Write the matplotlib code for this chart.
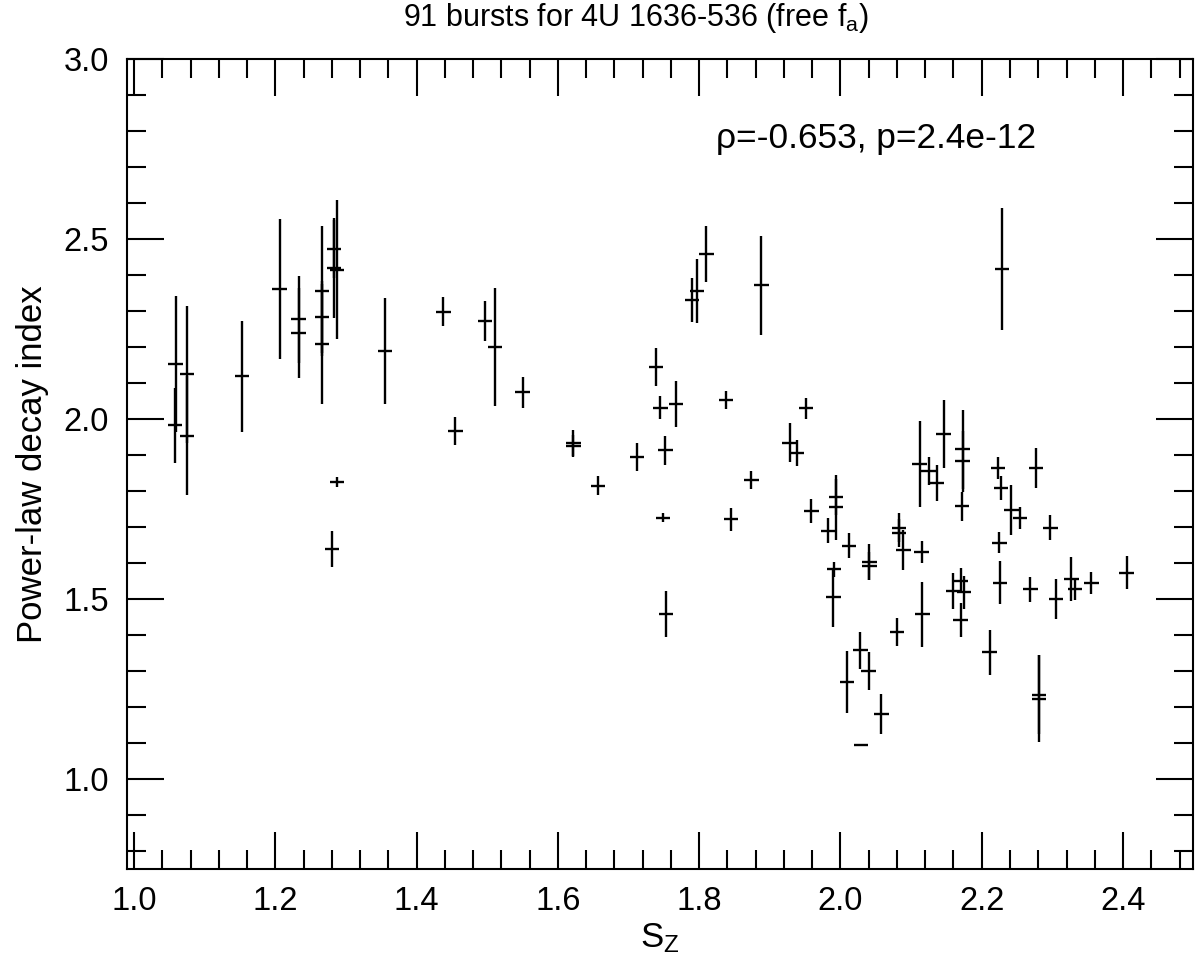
import numpy as np
import matplotlib
matplotlib.use("Agg")
import matplotlib.pyplot as plt
from matplotlib.ticker import MultipleLocator, FormatStrFormatter

plt.rcParams['font.family'] = ['Liberation Sans', 'DejaVu Sans']
plt.rcParams['mathtext.default'] = 'regular'

# S_Z values, power-law decay index and its 1-sigma error
sz = [1.058, 1.059, 1.075, 1.075, 1.153, 1.206, 1.233, 1.233, 1.266, 1.266,
      1.266, 1.280, 1.283, 1.283, 1.287, 1.287, 1.355, 1.438, 1.455, 1.497,
      1.511, 1.550, 1.622, 1.622, 1.657, 1.712, 1.739, 1.745, 1.749, 1.752,
      1.753, 1.767, 1.790, 1.797, 1.810, 1.838, 1.845, 1.874, 1.888, 1.928,
      1.938, 1.951, 1.959, 1.983, 1.990, 1.991, 1.994, 1.994, 2.009, 2.012,
      2.028, 2.029, 2.040, 2.041, 2.041, 2.058, 2.080, 2.083, 2.083, 2.089,
      2.112, 2.115, 2.116, 2.125, 2.136, 2.146, 2.160, 2.170, 2.170, 2.172,
      2.173, 2.173, 2.175, 2.211, 2.223, 2.225, 2.226, 2.227, 2.229, 2.242,
      2.254, 2.269, 2.277, 2.281, 2.281, 2.297, 2.305, 2.327, 2.332, 2.355,
      2.405]
index = [1.983, 2.153, 2.124, 1.954, 2.119, 2.361, 2.277, 2.238, 2.356, 2.284,
         2.208, 1.639, 2.472, 2.420, 2.415, 1.826, 2.189, 2.298, 1.967, 2.273,
         2.201, 2.074, 1.934, 1.925, 1.815, 1.895, 2.145, 2.031, 1.726, 1.914,
         1.460, 2.042, 2.331, 2.356, 2.458, 2.053, 1.722, 1.831, 2.372, 1.934,
         1.906, 2.030, 1.744, 1.690, 1.505, 1.583, 1.783, 1.755, 1.270, 1.649,
         1.358, 1.094, 1.301, 1.604, 1.592, 1.181, 1.409, 1.699, 1.684, 1.636,
         1.875, 1.631, 1.458, 1.856, 1.823, 1.958, 1.523, 1.551, 1.442, 1.758,
         1.916, 1.883, 1.519, 1.352, 1.865, 1.657, 1.546, 1.809, 2.417, 1.747,
         1.726, 1.528, 1.865, 1.235, 1.224, 1.699, 1.500, 1.556, 1.527, 1.545,
         1.574]
index_err = [0.104, 0.190, 0.190, 0.165, 0.154, 0.194, 0.120, 0.125, 0.180, 0.100,
             0.167, 0.049, 0.080, 0.139, 0.193, 0.014, 0.148, 0.040, 0.040, 0.056,
             0.164, 0.044, 0.035, 0.030, 0.026, 0.040, 0.053, 0.032, 0.013, 0.040,
             0.064, 0.064, 0.060, 0.090, 0.077, 0.025, 0.032, 0.024, 0.137, 0.054,
             0.035, 0.030, 0.033, 0.035, 0.083, 0.020, 0.050, 0.090, 0.085, 0.035,
             0.052, 0.000, 0.053, 0.050, 0.040, 0.055, 0.040, 0.040, 0.040, 0.056,
             0.120, 0.030, 0.090, 0.040, 0.050, 0.095, 0.050, 0.035, 0.047, 0.040,
             0.110, 0.085, 0.045, 0.062, 0.030, 0.030, 0.060, 0.033, 0.170, 0.070,
             0.030, 0.035, 0.055, 0.110, 0.120, 0.035, 0.055, 0.060, 0.030, 0.030,
             0.045]
sz_err = 0.0103

title = "91 bursts for 4U 1636-536 (free f$_a$)"
stats_text = "\u03c1=-0.653, p=2.4e-12"

fig = plt.figure(figsize=(12, 9.65), dpi=100)
ax = fig.add_axes([127 / 1200, 1 - 869.3 / 965, 1066.3 / 1200, 810.3 / 965])

ax.errorbar(sz, index, xerr=sz_err, yerr=index_err, fmt='none',
            ecolor='black', elinewidth=1.7, capsize=0)

ax.set_xlim(0.99, 2.4995)
ax.set_ylim(0.75, 3.0)
ax.xaxis.set_major_locator(MultipleLocator(0.2))
ax.xaxis.set_minor_locator(MultipleLocator(0.04))
ax.yaxis.set_major_locator(MultipleLocator(0.5))
ax.yaxis.set_minor_locator(MultipleLocator(0.1))
ax.xaxis.set_major_formatter(FormatStrFormatter('%.1f'))
ax.yaxis.set_major_formatter(FormatStrFormatter('%.1f'))

ax.tick_params(which='both', direction='in', top=True, right=True,
               width=1.5, labelsize=23.5)
ax.tick_params(axis='x', which='major', length=26.5, pad=12)
ax.tick_params(axis='y', which='major', length=26.5, pad=13)
ax.tick_params(which='minor', length=13.5)
for s in ax.spines.values():
    s.set_linewidth(1.5)

ax.set_xlabel("S$_Z$", fontsize=25, labelpad=3)
ax.set_ylabel("Power-law decay index", fontsize=25, labelpad=10)
ax.set_title(title, fontsize=22, x=(636 - 127) / 1066.3, pad=24)

ax.text(1.8245, 2.753, stats_text, fontsize=25.4, ha='left', va='baseline')

fig.savefig("out.png", dpi=100)
